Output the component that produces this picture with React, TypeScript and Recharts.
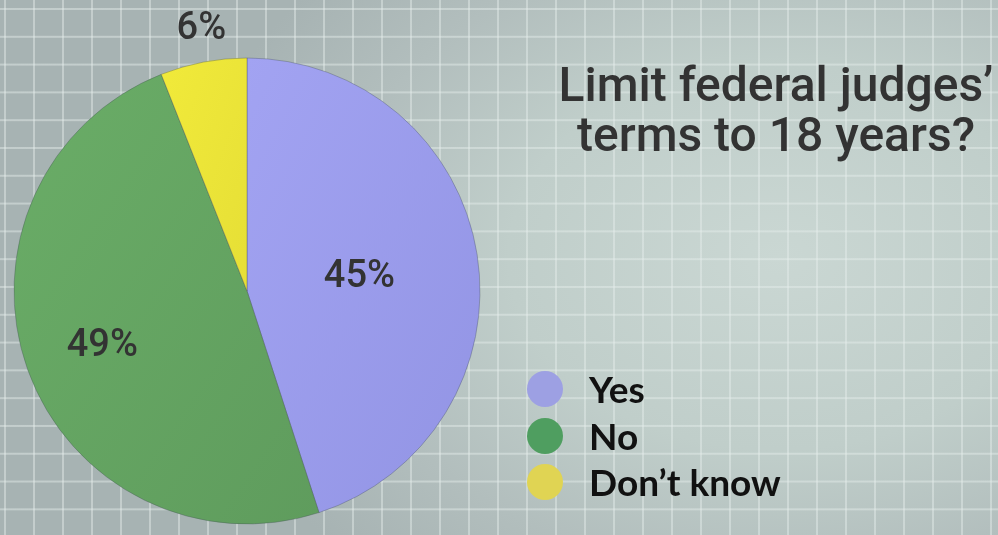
import React from 'react';
import { PieChart, Pie, Cell, Legend } from 'recharts';

const categories = ['Yes', 'No', 'Don\u2019t know'];
const shares = [45, 49, 6];
const valueLabels = ['45%', '49%', '6%'];
const sliceColors = ['url(#gYes)', 'url(#gNo)', 'url(#gDk)'];
const legendColors = ['#9da0e3', '#4f9e60', '#e0d453'];
const titleLines = ['Limit federal judges\u2019', 'terms to 18 years?'];

const data = categories.map((name, i) => ({ name, value: shares[i], label: valueLabels[i] }));

const RAD = Math.PI / 180;
const labelRadiusFactor = [0.48, 0.66, 1.16];

const renderLabel = (props: any) => {
  const { cx, cy, midAngle, outerRadius, index } = props;
  const r = outerRadius * labelRadiusFactor[index];
  const x = cx + r * Math.cos(-midAngle * RAD);
  const y = cy + r * Math.sin(-midAngle * RAD);
  return (
    <text
      x={x + (index === 2 ? 5 : index === 0 ? 2 : 0)}
      y={y + 13}
      textAnchor="middle"
      fill="#333333"
      style={{ fontFamily: 'Roboto, sans-serif', fontSize: 38, fontWeight: 500 }}
    >
      {data[index].label}
    </text>
  );
};

const renderLegend = () => (
  <div style={{ fontFamily: 'Lato, sans-serif' }}>
    {categories.map((c, i) => (
      <div key={c} style={{ display: 'flex', alignItems: 'center', height: 46.5 }}>
        <span
          style={{
            width: 36,
            height: 36,
            borderRadius: 18,
            background: legendColors[i],
            display: 'inline-block',
            marginRight: 26,
            flex: 'none',
          }}
        />
        <span style={{ fontSize: 37, fontWeight: 700, color: '#111', lineHeight: '46px', whiteSpace: 'nowrap' }}>{c}</span>
      </div>
    ))}
  </div>
);

const bg = [
  'linear-gradient(90deg, rgba(230,238,236,0.45) 2px, transparent 2px)',
  'linear-gradient(180deg, rgba(230,238,236,0.45) 2px, transparent 2px)',
  'radial-gradient(ellipse 60% 80% at 78% 48%, #cad7d3 0%, #c0ceca 45%, #b2bebd 75%, #a7b3b3 100%)',
].join(', ');

export default function App() {
  return (
    <div
      style={{
        position: 'fixed',
        left: 0,
        top: 0,
        width: 998,
        height: 535,
        overflow: 'hidden',
        backgroundImage: bg,
        backgroundSize: '29px 100%, 100% 27.8px, 100% 100%',
        backgroundPosition: '4px 0, 0 8px, 0 0',
      }}
    >
      <svg width={0} height={0} style={{ position: 'absolute' }}>
        <defs>
          <linearGradient id="gYes" x1="0" y1="0" x2="1" y2="1">
            <stop offset="0%" stopColor="#a2a3f2" />
            <stop offset="100%" stopColor="#9294e4" />
          </linearGradient>
          <linearGradient id="gNo" x1="0" y1="0" x2="1" y2="1">
            <stop offset="0%" stopColor="#6aad67" />
            <stop offset="100%" stopColor="#5f9c5d" />
          </linearGradient>
          <linearGradient id="gDk" x1="0" y1="0" x2="1" y2="1">
            <stop offset="0%" stopColor="#f1ea3a" />
            <stop offset="100%" stopColor="#e6df36" />
          </linearGradient>
        </defs>
      </svg>
      <div
        style={{
          position: 'absolute',
          left: 476,
          top: 60,
          width: 600,
          textAlign: 'center',
          fontFamily: 'Roboto, sans-serif',
          fontWeight: 500,
          fontSize: 48,
          lineHeight: '50px',
          color: '#333333',
          whiteSpace: 'nowrap',
        }}
      >
        <div>{titleLines[0]}</div>
        <div>{titleLines[1]}</div>
      </div>
      <PieChart
        width={998}
        height={535}
        margin={{ top: 0, right: 0, bottom: 0, left: 0 }}
        style={{ position: 'absolute', left: 0, top: 0 }}
      >
        <Pie
          data={data}
          dataKey="value"
          nameKey="name"
          cx={247}
          cy={291}
          outerRadius={233}
          startAngle={90}
          endAngle={-270}
          label={renderLabel}
          labelLine={false}
          isAnimationActive={false}
          stroke="rgba(70,80,90,0.35)"
          strokeWidth={1}
        >
          {data.map((d, i) => (
            <Cell key={d.name} fill={sliceColors[i]} />
          ))}
        </Pie>
        <Legend
          content={renderLegend}
          wrapperStyle={{ position: 'absolute', left: 527, top: 366, width: 320 }}
        />
      </PieChart>
    </div>
  );
}
